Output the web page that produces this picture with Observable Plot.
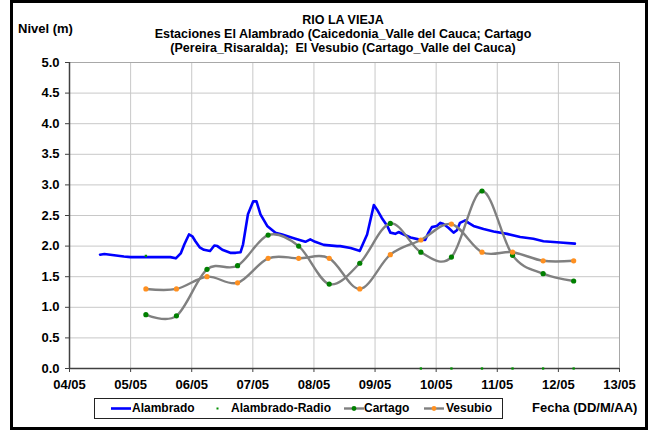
<!DOCTYPE html>
<html><head><meta charset="utf-8">
<script src="https://cdn.jsdelivr.net/npm/d3@7"></script>
<script src="https://cdn.jsdelivr.net/npm/@observablehq/plot@0.6"></script>
<style>
body{margin:0;background:#fff;}
#wrap{position:relative;width:650px;height:430px;font-family:"Liberation Sans",Arial,sans-serif;font-weight:bold;color:#000;overflow:hidden;}
#chart{position:absolute;left:0;top:0;}
#border{position:absolute;left:10px;top:0;width:638px;height:430px;border:3px solid #000;box-sizing:border-box;pointer-events:none;}
.t{position:absolute;font-size:13px;line-height:14px;white-space:nowrap;}
.tl{position:absolute;left:143px;width:400px;text-align:center;font-size:12.5px;line-height:14px;height:14px;white-space:nowrap;}
#ylab{left:18px;top:22px;}
#xlab{left:532px;top:401px;}
#legend{position:absolute;left:94px;top:398px;width:409px;height:21px;border:1px solid #222;box-sizing:border-box;background:#fff;font-size:12px;}
.item{position:absolute;top:0;line-height:19px;white-space:nowrap;}
.sym{position:absolute;top:0;}
</style></head>
<body>
<div id="wrap">
  <div id="chart"></div>
  <div class="tl" style="top:12.7px">RIO LA VIEJA</div>
  <div class="tl" style="top:26.7px">Estaciones El Alambrado (Caicedonia_Valle del Cauca; Cartago</div>
  <div class="tl" style="top:40.7px">(Pereira_Risaralda);&nbsp; El Vesubio (Cartago_Valle del Cauca)</div>
  <div id="ylab" class="t">Nivel (m)</div>
  <div id="xlab" class="t">Fecha (DD/M/AA)</div>
  <div id="legend"></div>
  <div id="border"></div>
</div>
<script>
// x tick positions (day of May) and labels
const xTicks = [4,5,6,7,8,9,10,11,12,13];
const xLabels = ["04/05","05/05","06/05","07/05","08/05","09/05","10/05","11/05","12/05","13/05"];
const yTicks = [0,0.5,1,1.5,2,2.5,3,3.5,4,4.5,5];

// Alambrado (continuous record)
const alamDays = [4.50,4.57,4.89,5.00,5.65,5.74,5.82,5.88,5.955,6.01,6.06,6.13,6.20,6.30,6.37,6.42,6.50,6.63,6.72,6.80,6.84,6.92,7.005,7.06,7.125,7.235,7.37,7.48,7.67,7.86,7.94,8.02,8.16,8.38,8.43,8.60,8.73,8.75,8.87,8.98,9.03,9.11,9.20,9.25,9.33,9.385,9.47,9.58,9.71,9.82,9.875,9.93,10.01,10.07,10.12,10.20,10.285,10.34,10.39,10.475,10.53,10.61,10.775,10.94,11.16,11.375,11.59,11.755,12.03,12.27];
const alamVals = [1.86,1.87,1.83,1.82,1.82,1.80,1.88,2.03,2.19,2.16,2.08,1.98,1.94,1.92,2.01,2.00,1.94,1.89,1.89,1.90,2.03,2.52,2.73,2.73,2.52,2.33,2.22,2.19,2.13,2.07,2.11,2.07,2.02,2.00,2.00,1.97,1.93,1.92,2.19,2.67,2.60,2.46,2.33,2.22,2.20,2.23,2.19,2.14,2.11,2.10,2.22,2.31,2.33,2.38,2.36,2.30,2.22,2.26,2.38,2.42,2.38,2.33,2.28,2.24,2.20,2.15,2.12,2.08,2.06,2.04];

// Alambrado-Radio
const radioDays = [5.25,9.75,10.25,10.75,11.25,11.75,12.25];
const radioVals = [1.84,0,0,0,0,0,0];

// Cartago and Vesubio (twice-daily readings)
const stDays = [5.25,5.75,6.25,6.75,7.25,7.75,8.25,8.75,9.25,9.75,10.25,10.75,11.25,11.75,12.25];
const cartVals = [0.88,0.86,1.62,1.68,2.18,2.00,1.38,1.72,2.37,1.90,1.82,2.90,1.85,1.55,1.43];
const vesuVals = [1.30,1.30,1.50,1.40,1.80,1.80,1.80,1.30,1.86,2.10,2.36,1.90,1.90,1.76,1.76];

const plot = Plot.plot({
  width: 650, height: 430,
  marginLeft: 69, marginRight: 31, marginTop: 62, marginBottom: 62,
  style: {fontFamily: "'Liberation Sans', Arial, sans-serif", fontSize: "13px", fontWeight: "bold", color: "#000", background: "transparent"},
  x: {domain: [4, 13], label: null},
  y: {domain: [0, 5], label: null},
  marks: [
    Plot.gridX(xTicks, {stroke: "#c8c8c8", strokeOpacity: 1}),
    Plot.gridY(yTicks, {stroke: "#c8c8c8", strokeOpacity: 1}),
    Plot.frame({stroke: "#a8a8a8"}),
    Plot.ruleX([4], {stroke: "#404040", strokeWidth: 1.5}),
    Plot.ruleY([0], {stroke: "#404040", strokeWidth: 1.5}),
    Plot.axisX(xTicks, {tickSize: 4, tickPadding: 7, tickFormat: d => xLabels[xTicks.indexOf(d)], stroke: "#404040", fill: "#000", label: null}),
    Plot.axisY(yTicks, {tickSize: 4, tickPadding: 6, tickFormat: d => d.toFixed(1), stroke: "#404040", fill: "#000", label: null}),
    Plot.line(alamVals, {x: alamDays, y: alamVals, stroke: "#0000ff", strokeWidth: 2.6}),
    Plot.dot(radioVals, {x: radioDays, y: radioVals, symbol: "square", r: 1.3, fill: "#009000", stroke: null}),
    Plot.line(cartVals, {x: stDays, y: cartVals, stroke: "#808080", strokeWidth: 2.4, curve: "cardinal"}),
    Plot.dot(cartVals, {x: stDays, y: cartVals, r: 2.6, fill: "#008000", stroke: null}),
    Plot.line(vesuVals, {x: stDays, y: vesuVals, stroke: "#808080", strokeWidth: 2.4, curve: "cardinal"}),
    Plot.dot(vesuVals, {x: stDays, y: vesuVals, r: 2.6, fill: "#ff9020", stroke: null})
  ]
});
document.getElementById("chart").appendChild(plot);

// legend
const legendItems = [
  {name: "Alambrado", type: "line", color: "#0000ff", dot: null, sx: 16, tx: 37},
  {name: "Alambrado-Radio", type: "point", color: "#009000", dot: null, sx: 121, tx: 136},
  {name: "Cartago", type: "linedot", color: "#808080", dot: "#008000", sx: 249, tx: 269},
  {name: "Vesubio", type: "linedot", color: "#808080", dot: "#ff9020", sx: 329, tx: 351}
];
const lg = document.getElementById("legend");
for (const it of legendItems) {
  const ns = "http://www.w3.org/2000/svg";
  const svg = document.createElementNS(ns, "svg");
  svg.setAttribute("width", 22); svg.setAttribute("height", 19);
  svg.setAttribute("class", "sym");
  svg.style.left = it.sx + "px";
  if (it.type === "line" || it.type === "linedot") {
    const l = document.createElementNS(ns, "line");
    l.setAttribute("x1", 0); l.setAttribute("x2", 20); l.setAttribute("y1", 9.5); l.setAttribute("y2", 9.5);
    l.setAttribute("stroke", it.color); l.setAttribute("stroke-width", it.type === "line" ? 2.6 : 2.4);
    svg.appendChild(l);
  }
  if (it.type === "linedot") {
    const c = document.createElementNS(ns, "circle");
    c.setAttribute("cx", 10); c.setAttribute("cy", 9.5); c.setAttribute("r", 2.4); c.setAttribute("fill", it.dot);
    svg.appendChild(c);
  }
  if (it.type === "point") {
    const r = document.createElementNS(ns, "rect");
    r.setAttribute("x", 0.5); r.setAttribute("y", 8.5); r.setAttribute("width", 2); r.setAttribute("height", 2); r.setAttribute("fill", it.color);
    svg.appendChild(r);
  }
  lg.appendChild(svg);
  const s = document.createElement("span");
  s.className = "item"; s.style.left = it.tx + "px"; s.textContent = it.name;
  lg.appendChild(s);
}
</script>
</body></html>
